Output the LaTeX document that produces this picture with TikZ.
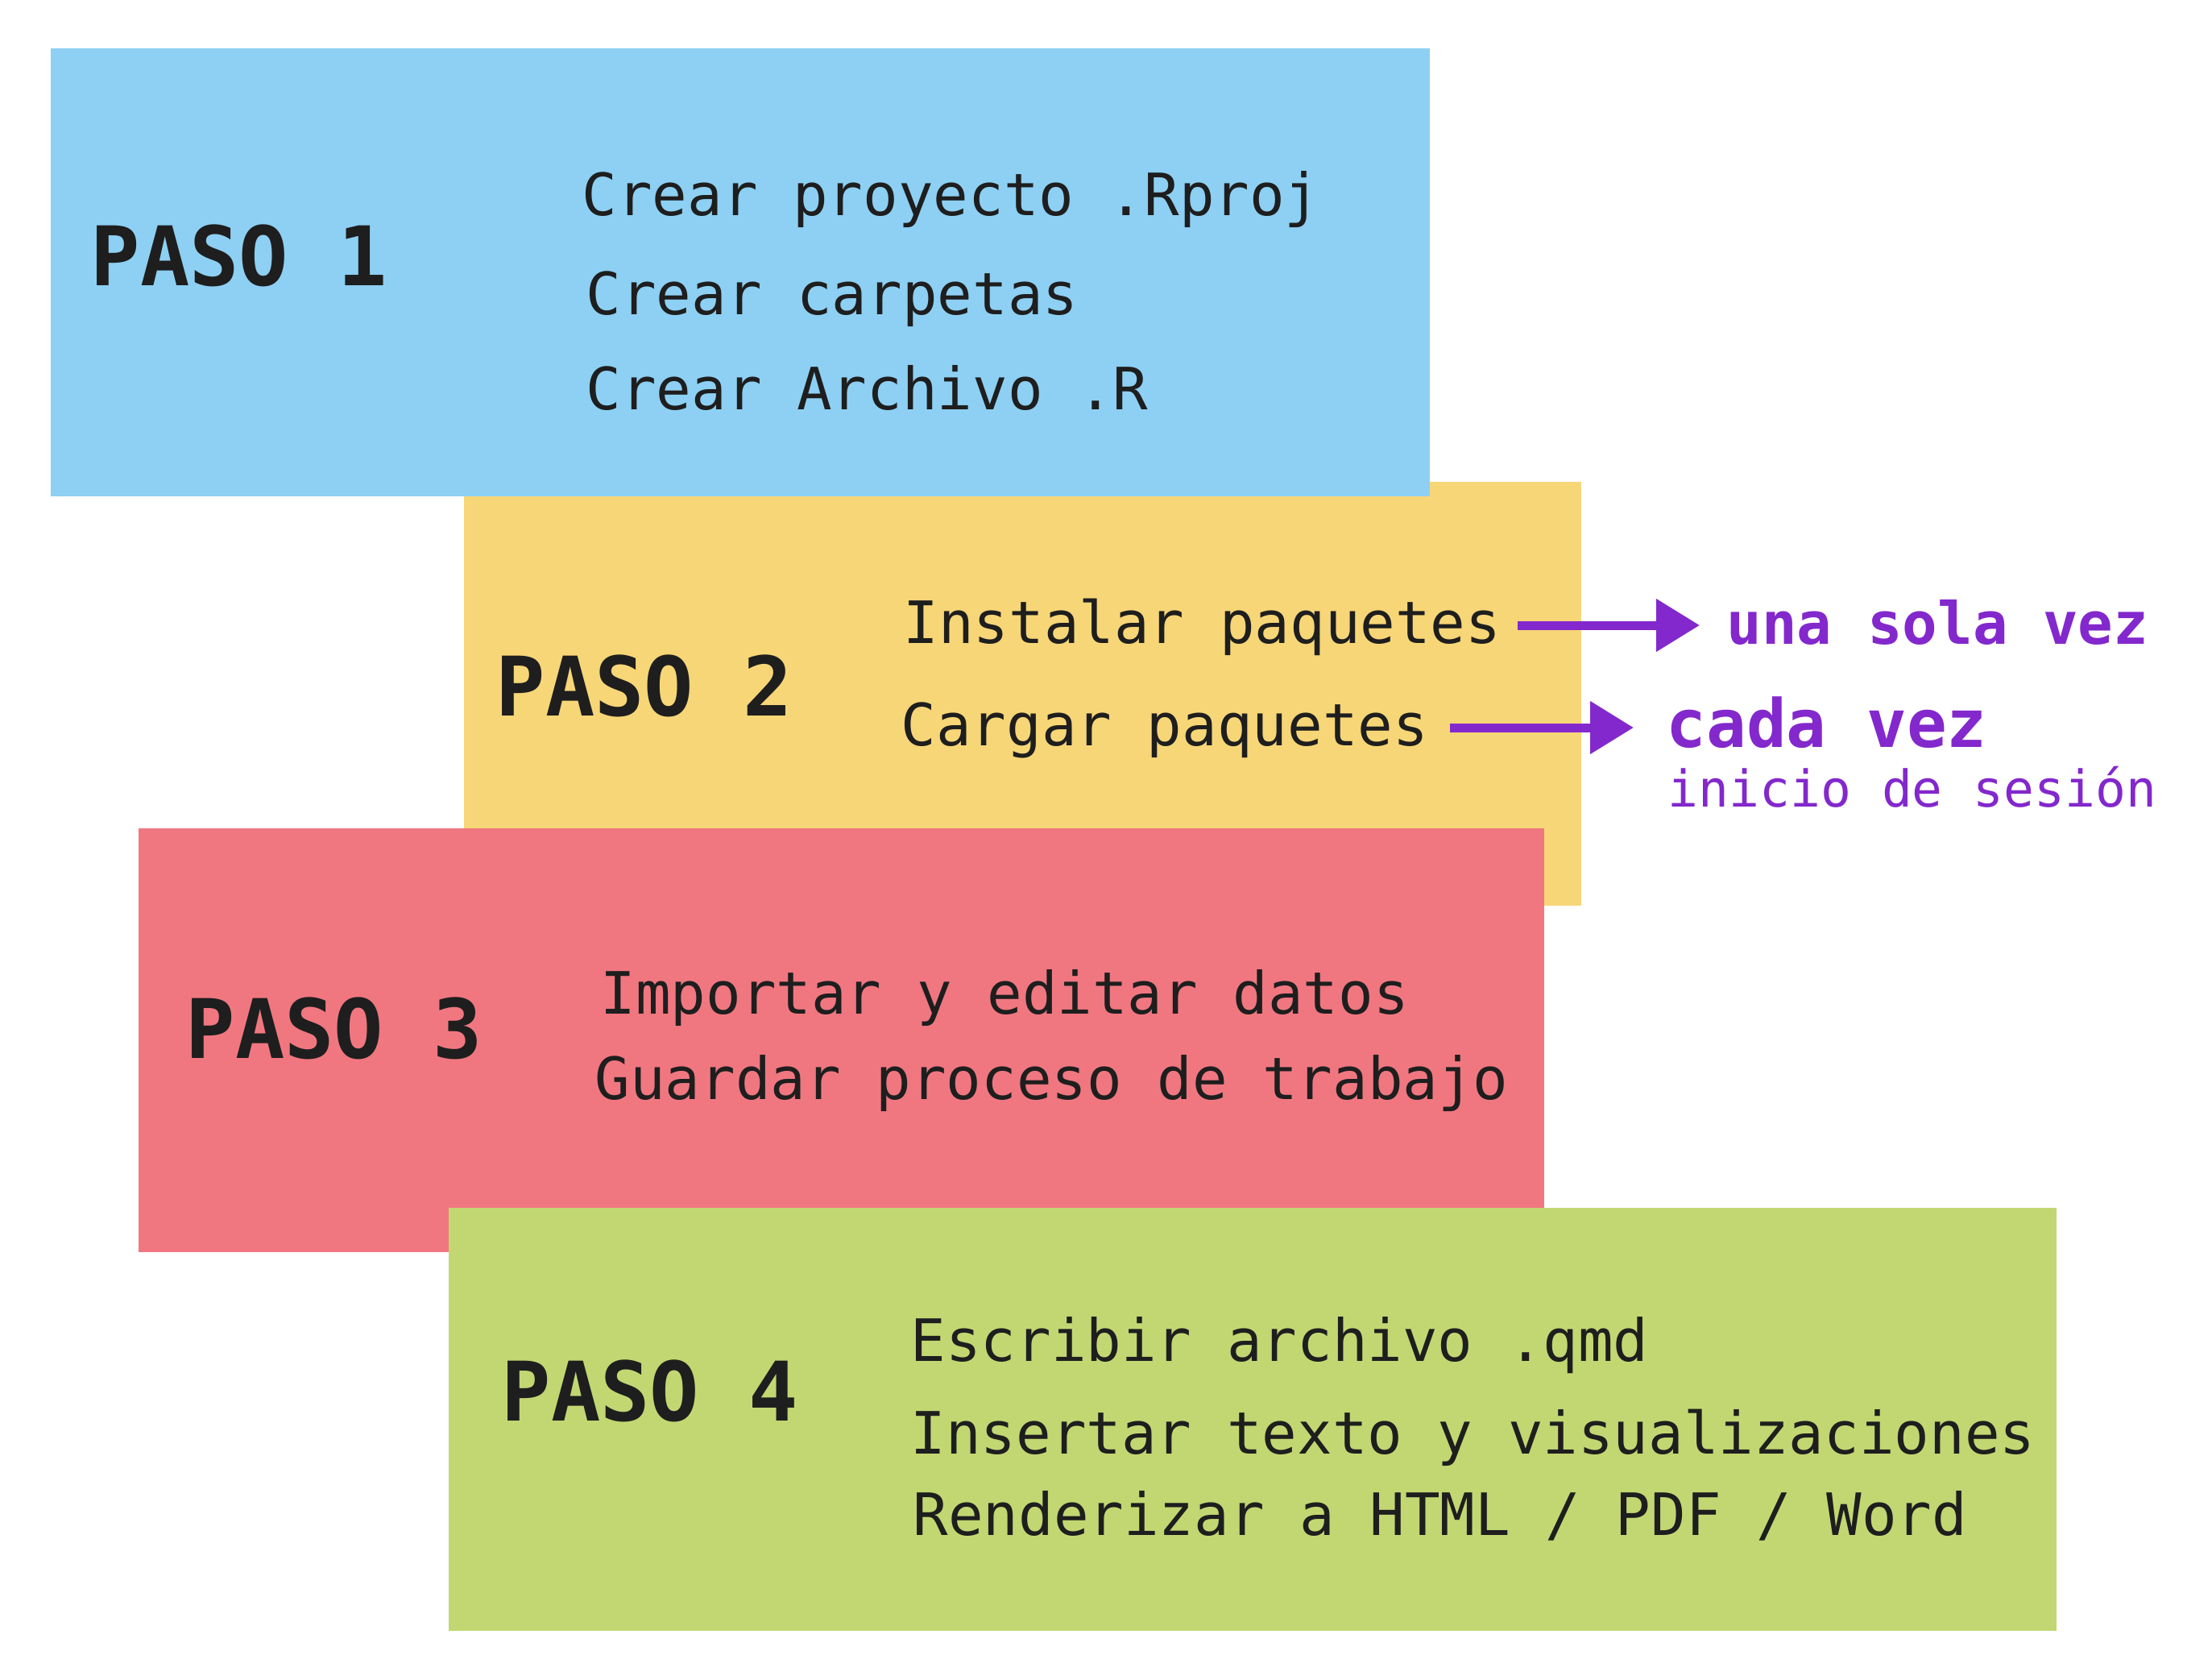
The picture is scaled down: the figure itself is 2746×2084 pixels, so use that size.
\documentclass[tikz,border=0pt]{standalone}
\usepackage{fontspec}
\setmonofont{DejaVu Sans Mono}
\usepackage{tikz}
\usepackage{xcolor}
\usetikzlibrary{arrows.meta}

\definecolor{azul}{HTML}{8DD0F3}
\definecolor{amarillo}{HTML}{F7D677}
\definecolor{rojo}{HTML}{F07780}
\definecolor{verde}{HTML}{C2D772}
\definecolor{morado}{HTML}{8328CC}
\definecolor{tinta}{HTML}{1E1E1E}

\begin{document}
\begin{tikzpicture}[x=0.01cm, y=-0.01cm,
                    every node/.style={inner sep=0pt, anchor=base west, text=tinta},
                    paso/.style={font=\fontsize{29}{34}\selectfont\ttfamily\bfseries},
                    linea/.style={font=\fontsize{20.6}{24}\selectfont\ttfamily},
                    nota/.style={text=morado, font=\fontsize{20.6}{24}\selectfont\ttfamily\bfseries},
                    flecha/.style={draw=morado, line width=0.11cm, -{Triangle[length=0.54cm, width=0.63cm]}}]
                    \useasboundingbox (0,0) rectangle (2746,2084);

                    % cajas
                    \fill[amarillo] (576,598) rectangle (1963,1124);
                    \fill[azul] (63,60) rectangle (1775,616);
                    \fill[rojo] (172,1028) rectangle (1917,1554);
                    \fill[verde] (557,1499) rectangle (2553,2024);

                    % paso 1
                    \node[paso] (P1) at (112,354) {PASO 1};
                    \node[linea] (a1) at (722,267) {Crear proyecto .Rproj};
                    \node[linea] (a2) at (727,390) {Crear carpetas};
                    \node[linea] (a3) at (727,508) {Crear Archivo .R};

                    % paso 2
                    \node[paso] (P2) at (615,888) {PASO 2};
                    \node[linea] (inst) at (1121,798) {Instalar paquetes};
                    \node[linea] (carg) at (1118,925) {Cargar paquetes};
                    \node[nota] (una) at (2143,799) {una sola vez};
                    \node[nota, font=\fontsize{23.5}{28}\selectfont\ttfamily\bfseries] (cada) at (2068,927) {cada vez};
                    \node[text=morado, font=\fontsize{17.9}{21}\selectfont\ttfamily] (ini) at (2070,1001) {inicio de sesión};

                    \draw[flecha] ([shift={(20,-22)}]inst.base east) -- ([shift={(-33,-23)}]una.base west);
                    \draw[flecha] ([shift={(26,-22)}]carg.base east) -- ([shift={(-40,-24)}]cada.base west);

                    % paso 3
                    \node[paso] (P3) at (230,1313) {PASO 3};
                    \node[linea] (b1) at (745,1258) {Importar y editar datos};
                    \node[linea] (b2) at (738,1364) {Guardar proceso de trabajo};

                    % paso 4
                    \node[paso] (P4) at (622,1763) {PASO 4};
                    \node[linea] (c1) at (1130,1689) {Escribir archivo .qmd};
                    \node[linea] (c2) at (1130,1804) {Insertar texto y visualizaciones};
                    \node[linea] (c3) at (1133,1905) {Renderizar a HTML / PDF / Word};
                \end{tikzpicture}
\end{document}
